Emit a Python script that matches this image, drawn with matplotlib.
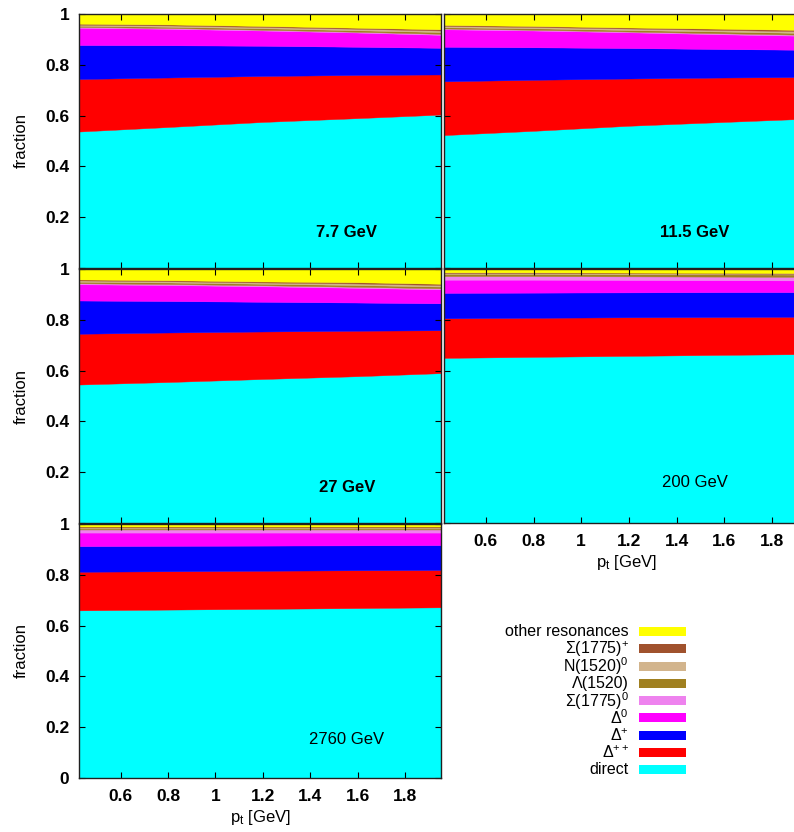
import numpy as np
import matplotlib
matplotlib.use("Agg")
import matplotlib.pyplot as plt
from matplotlib.patches import Rectangle

plt.rcParams['font.family'] = ['Liberation Sans', 'DejaVu Sans']
plt.rcParams['mathtext.fontset'] = 'custom'
plt.rcParams['mathtext.rm'] = 'Liberation Sans'
plt.rcParams['mathtext.it'] = 'Liberation Sans'

# transverse momentum grid (GeV)
pt = [0.42, 0.8, 1.2, 1.6, 1.95]

names = ["direct", "Δ$^{++}$", "Δ$^{+}$", "Δ$^{0}$", "Σ(1775)$^{0}$",
         "Λ(1520)", "N(1520)$^{0}$", "Σ(1775)$^{+}$", "other resonances"]
colors = ["#00ffff", "#ff0000", "#0000ff", "#ff00ff", "#ee82ee",
          "#a08020", "#d2b48c", "#a0522d", "#ffff00"]

energies = ["7.7 GeV", "11.5 GeV", "27 GeV", "200 GeV", "2760 GeV"]
bold_label = [True, True, True, False, False]

# fractions of each source, one list per layer
f_7p7 = [
    [0.537, 0.555, 0.575, 0.590, 0.604],
    [0.207, 0.195, 0.181, 0.170, 0.158],
    [0.134, 0.127, 0.119, 0.111, 0.105],
    [0.068, 0.065, 0.060, 0.056, 0.051],
    [0.003, 0.003, 0.003, 0.003, 0.004],
    [0.005, 0.005, 0.006, 0.006, 0.007],
    [0.004, 0.005, 0.005, 0.006, 0.006],
    [0.004, 0.004, 0.004, 0.004, 0.005],
    [0.038, 0.041, 0.047, 0.054, 0.060],
]
f_11p5 = [
    [0.523, 0.540, 0.560, 0.575, 0.588],
    [0.212, 0.201, 0.186, 0.175, 0.164],
    [0.136, 0.128, 0.120, 0.112, 0.107],
    [0.069, 0.066, 0.062, 0.058, 0.055],
    [0.003, 0.003, 0.003, 0.004, 0.004],
    [0.005, 0.006, 0.006, 0.007, 0.007],
    [0.005, 0.005, 0.006, 0.006, 0.007],
    [0.004, 0.004, 0.004, 0.005, 0.005],
    [0.043, 0.047, 0.053, 0.058, 0.063],
]
f_27 = [
    [0.545, 0.555, 0.567, 0.578, 0.590],
    [0.200, 0.195, 0.187, 0.179, 0.169],
    [0.131, 0.124, 0.117, 0.111, 0.106],
    [0.064, 0.063, 0.061, 0.058, 0.055],
    [0.004, 0.004, 0.004, 0.004, 0.004],
    [0.006, 0.006, 0.006, 0.007, 0.007],
    [0.005, 0.005, 0.005, 0.006, 0.006],
    [0.004, 0.004, 0.004, 0.005, 0.005],
    [0.041, 0.044, 0.048, 0.053, 0.058],
]
f_200 = [
    [0.650, 0.654, 0.658, 0.662, 0.665],
    [0.156, 0.154, 0.152, 0.149, 0.147],
    [0.100, 0.099, 0.098, 0.098, 0.097],
    [0.052, 0.051, 0.049, 0.047, 0.046],
    [0.014, 0.014, 0.014, 0.014, 0.014],
    [0.009, 0.009, 0.009, 0.009, 0.009],
    [0.003, 0.003, 0.003, 0.003, 0.003],
    [0.003, 0.003, 0.003, 0.003, 0.003],
    [0.013, 0.013, 0.014, 0.015, 0.016],
]
f_2760 = [
    [0.660, 0.663, 0.666, 0.669, 0.672],
    [0.152, 0.151, 0.150, 0.149, 0.147],
    [0.101, 0.100, 0.099, 0.098, 0.098],
    [0.053, 0.052, 0.051, 0.050, 0.049],
    [0.009, 0.009, 0.009, 0.009, 0.009],
    [0.007, 0.007, 0.007, 0.007, 0.007],
    [0.003, 0.003, 0.003, 0.003, 0.003],
    [0.003, 0.003, 0.003, 0.003, 0.003],
    [0.012, 0.012, 0.012, 0.012, 0.012],
]
panels = [f_7p7, f_11p5, f_27, f_200, f_2760]

W, H = 794, 832
fig = plt.figure(figsize=(W / 100, H / 100), dpi=100)

def px_axes(x0, x1, ytop, ybot):
    return fig.add_axes([x0 / W, (H - ybot) / H, (x1 - x0) / W, (ybot - ytop) / H])

# pixel boxes: (left, right, top, bottom)
boxes = [(79, 441, 14, 268), (444, 808, 14, 268),
         (79, 441, 269, 523), (444, 808, 269, 523),
         (79, 441, 524, 778)]
# label centre positions in axes fractions
label_pos = [(0.74, 0.14), (0.69, 0.14), (0.74, 0.14), (0.69, 0.16), (0.74, 0.15)]
show_xt = [False, False, False, True, True]
show_yt = [True, False, True, False, True]

for i, data in enumerate(panels):
    ax = px_axes(*boxes[i])
    ax.stackplot(pt, *data, colors=colors, edgecolor='face', linewidth=0.3)
    ax.set_xlim(0.425, 1.95)
    ax.set_ylim(0, 1)
    ax.set_xticks(np.arange(0.6, 1.81, 0.2))
    ax.set_yticks(np.arange(0, 1.01, 0.2))
    ax.set_xticklabels(["0.6", "0.8", "1", "1.2", "1.4", "1.6", "1.8"])
    if i == 4:
        ax.set_yticklabels(["0", "0.2", "0.4", "0.6", "0.8", "1"])
    else:
        ax.set_yticklabels(["", "0.2", "0.4", "0.6", "0.8", "1"])
    ax.tick_params(direction='in', top=True, right=True, length=4, width=0.8,
                   labelsize=12.5)
    ax.tick_params(axis='x', pad=8, labelbottom=show_xt[i])
    ax.tick_params(axis='y', pad=7, labelleft=show_yt[i])
    for lab in ax.get_xticklabels() + ax.get_yticklabels():
        lab.set_fontweight('bold')
    for s in ax.spines.values():
        s.set_linewidth(1.0)
        s.set_color('#202020')
    ax.set_zorder(2)
    if show_yt[i]:
        ax.set_ylabel("fraction", fontsize=12)
        ax.yaxis.set_label_coords(-0.14, 0.5)
    if show_xt[i]:
        ax.set_xlabel("p$_\\mathrm{t}$ [GeV]", fontsize=12, labelpad=3)
    ax.text(label_pos[i][0], label_pos[i][1], energies[i], transform=ax.transAxes,
            ha='center', va='center', fontsize=12,
            fontweight='bold' if bold_label[i] else 'normal')

# legend drawn in pixel coordinates, top entry first
row_y = 631.5
for k in range(len(names) - 1, -1, -1):
    fig.text(629 / W, (H - row_y) / H, names[k], ha='right', va='center',
             fontsize=11.5)
    fig.patches.append(Rectangle((639 / W, (H - row_y - 4.5) / H), 47 / W, 9 / H,
                                 transform=fig.transFigure, facecolor=colors[k],
                                 edgecolor='none'))
    row_y += 17.3

fig.savefig("out.png", dpi=100)
